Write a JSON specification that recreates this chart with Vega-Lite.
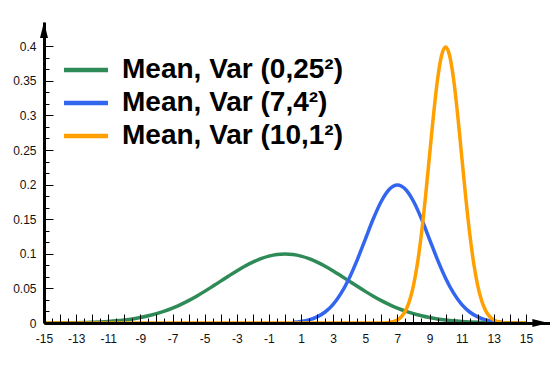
{
  "$schema": "https://vega.github.io/schema/vega-lite/v6.json",
  "width": 506,
  "height": 301,
  "autosize": {"type": "none"},
  "padding": {"left": 44, "top": 22, "right": 0, "bottom": 52},
  "background": "white",
  "config": {"view": {"stroke": null}, "font": "Liberation Sans"},
  "datasets": {
    "curves": [
      {"series": "Mean, Var (0,25²)", "x": -15, "y": 0.0001},
      {"series": "Mean, Var (0,25²)", "x": -14.5, "y": 0.0001},
      {"series": "Mean, Var (0,25²)", "x": -14, "y": 0.0002},
      {"series": "Mean, Var (0,25²)", "x": -13.5, "y": 0.0003},
      {"series": "Mean, Var (0,25²)", "x": -13, "y": 0.0005},
      {"series": "Mean, Var (0,25²)", "x": -12.5, "y": 0.0008},
      {"series": "Mean, Var (0,25²)", "x": -12, "y": 0.0011},
      {"series": "Mean, Var (0,25²)", "x": -11.5, "y": 0.0016},
      {"series": "Mean, Var (0,25²)", "x": -11, "y": 0.0023},
      {"series": "Mean, Var (0,25²)", "x": -10.5, "y": 0.0032},
      {"series": "Mean, Var (0,25²)", "x": -10, "y": 0.0044},
      {"series": "Mean, Var (0,25²)", "x": -9.5, "y": 0.0059},
      {"series": "Mean, Var (0,25²)", "x": -9, "y": 0.0079},
      {"series": "Mean, Var (0,25²)", "x": -8.5, "y": 0.0104},
      {"series": "Mean, Var (0,25²)", "x": -8, "y": 0.0135},
      {"series": "Mean, Var (0,25²)", "x": -7.5, "y": 0.0172},
      {"series": "Mean, Var (0,25²)", "x": -7, "y": 0.0216},
      {"series": "Mean, Var (0,25²)", "x": -6.5, "y": 0.0266},
      {"series": "Mean, Var (0,25²)", "x": -6, "y": 0.0324},
      {"series": "Mean, Var (0,25²)", "x": -5.5, "y": 0.0388},
      {"series": "Mean, Var (0,25²)", "x": -5, "y": 0.0457},
      {"series": "Mean, Var (0,25²)", "x": -4.5, "y": 0.0530},
      {"series": "Mean, Var (0,25²)", "x": -4, "y": 0.0605},
      {"series": "Mean, Var (0,25²)", "x": -3.5, "y": 0.0680},
      {"series": "Mean, Var (0,25²)", "x": -3, "y": 0.0753},
      {"series": "Mean, Var (0,25²)", "x": -2.5, "y": 0.0820},
      {"series": "Mean, Var (0,25²)", "x": -2, "y": 0.0880},
      {"series": "Mean, Var (0,25²)", "x": -1.5, "y": 0.0930},
      {"series": "Mean, Var (0,25²)", "x": -1, "y": 0.0967},
      {"series": "Mean, Var (0,25²)", "x": -0.5, "y": 0.0990},
      {"series": "Mean, Var (0,25²)", "x": 0, "y": 0.0997},
      {"series": "Mean, Var (0,25²)", "x": 0.5, "y": 0.0990},
      {"series": "Mean, Var (0,25²)", "x": 1, "y": 0.0967},
      {"series": "Mean, Var (0,25²)", "x": 1.5, "y": 0.0930},
      {"series": "Mean, Var (0,25²)", "x": 2, "y": 0.0880},
      {"series": "Mean, Var (0,25²)", "x": 2.5, "y": 0.0820},
      {"series": "Mean, Var (0,25²)", "x": 3, "y": 0.0753},
      {"series": "Mean, Var (0,25²)", "x": 3.5, "y": 0.0680},
      {"series": "Mean, Var (0,25²)", "x": 4, "y": 0.0605},
      {"series": "Mean, Var (0,25²)", "x": 4.5, "y": 0.0530},
      {"series": "Mean, Var (0,25²)", "x": 5, "y": 0.0457},
      {"series": "Mean, Var (0,25²)", "x": 5.5, "y": 0.0388},
      {"series": "Mean, Var (0,25²)", "x": 6, "y": 0.0324},
      {"series": "Mean, Var (0,25²)", "x": 6.5, "y": 0.0266},
      {"series": "Mean, Var (0,25²)", "x": 7, "y": 0.0216},
      {"series": "Mean, Var (0,25²)", "x": 7.5, "y": 0.0172},
      {"series": "Mean, Var (0,25²)", "x": 8, "y": 0.0135},
      {"series": "Mean, Var (0,25²)", "x": 8.5, "y": 0.0104},
      {"series": "Mean, Var (0,25²)", "x": 9, "y": 0.0079},
      {"series": "Mean, Var (0,25²)", "x": 9.5, "y": 0.0059},
      {"series": "Mean, Var (0,25²)", "x": 10, "y": 0.0044},
      {"series": "Mean, Var (0,25²)", "x": 10.5, "y": 0.0032},
      {"series": "Mean, Var (0,25²)", "x": 11, "y": 0.0023},
      {"series": "Mean, Var (0,25²)", "x": 11.5, "y": 0.0016},
      {"series": "Mean, Var (0,25²)", "x": 12, "y": 0.0011},
      {"series": "Mean, Var (0,25²)", "x": 12.5, "y": 0.0008},
      {"series": "Mean, Var (0,25²)", "x": 13, "y": 0.0005},
      {"series": "Mean, Var (0,25²)", "x": 13.5, "y": 0.0003},
      {"series": "Mean, Var (0,25²)", "x": 14, "y": 0.0002},
      {"series": "Mean, Var (0,25²)", "x": 14.5, "y": 0.0001},
      {"series": "Mean, Var (0,25²)", "x": 15, "y": 0.0001},
      {"series": "Mean, Var (7,4²)", "x": 0.5, "y": 0.0010},
      {"series": "Mean, Var (7,4²)", "x": 1, "y": 0.0022},
      {"series": "Mean, Var (7,4²)", "x": 1.5, "y": 0.0045},
      {"series": "Mean, Var (7,4²)", "x": 2, "y": 0.0088},
      {"series": "Mean, Var (7,4²)", "x": 2.5, "y": 0.0159},
      {"series": "Mean, Var (7,4²)", "x": 3, "y": 0.0270},
      {"series": "Mean, Var (7,4²)", "x": 3.5, "y": 0.0432},
      {"series": "Mean, Var (7,4²)", "x": 4, "y": 0.0648},
      {"series": "Mean, Var (7,4²)", "x": 4.5, "y": 0.0913},
      {"series": "Mean, Var (7,4²)", "x": 5, "y": 0.1210},
      {"series": "Mean, Var (7,4²)", "x": 5.5, "y": 0.1506},
      {"series": "Mean, Var (7,4²)", "x": 6, "y": 0.1760},
      {"series": "Mean, Var (7,4²)", "x": 6.5, "y": 0.1934},
      {"series": "Mean, Var (7,4²)", "x": 7, "y": 0.1995},
      {"series": "Mean, Var (7,4²)", "x": 7.5, "y": 0.1934},
      {"series": "Mean, Var (7,4²)", "x": 8, "y": 0.1760},
      {"series": "Mean, Var (7,4²)", "x": 8.5, "y": 0.1506},
      {"series": "Mean, Var (7,4²)", "x": 9, "y": 0.1210},
      {"series": "Mean, Var (7,4²)", "x": 9.5, "y": 0.0913},
      {"series": "Mean, Var (7,4²)", "x": 10, "y": 0.0648},
      {"series": "Mean, Var (7,4²)", "x": 10.5, "y": 0.0432},
      {"series": "Mean, Var (7,4²)", "x": 11, "y": 0.0270},
      {"series": "Mean, Var (7,4²)", "x": 11.5, "y": 0.0159},
      {"series": "Mean, Var (7,4²)", "x": 12, "y": 0.0088},
      {"series": "Mean, Var (7,4²)", "x": 12.5, "y": 0.0045},
      {"series": "Mean, Var (7,4²)", "x": 13, "y": 0.0022},
      {"series": "Mean, Var (7,4²)", "x": 13.5, "y": 0.0010},
      {"series": "Mean, Var (10,1²)", "x": -15, "y": 0},
      {"series": "Mean, Var (10,1²)", "x": -10, "y": 0},
      {"series": "Mean, Var (10,1²)", "x": -5, "y": 0},
      {"series": "Mean, Var (10,1²)", "x": 0, "y": 0},
      {"series": "Mean, Var (10,1²)", "x": 5, "y": 0},
      {"series": "Mean, Var (10,1²)", "x": 6, "y": 0.0001},
      {"series": "Mean, Var (10,1²)", "x": 6.5, "y": 0.0009},
      {"series": "Mean, Var (10,1²)", "x": 7, "y": 0.0044},
      {"series": "Mean, Var (10,1²)", "x": 7.25, "y": 0.0091},
      {"series": "Mean, Var (10,1²)", "x": 7.5, "y": 0.0175},
      {"series": "Mean, Var (10,1²)", "x": 7.75, "y": 0.0317},
      {"series": "Mean, Var (10,1²)", "x": 8, "y": 0.0540},
      {"series": "Mean, Var (10,1²)", "x": 8.25, "y": 0.0863},
      {"series": "Mean, Var (10,1²)", "x": 8.5, "y": 0.1295},
      {"series": "Mean, Var (10,1²)", "x": 8.75, "y": 0.1826},
      {"series": "Mean, Var (10,1²)", "x": 9, "y": 0.2420},
      {"series": "Mean, Var (10,1²)", "x": 9.25, "y": 0.3011},
      {"series": "Mean, Var (10,1²)", "x": 9.5, "y": 0.3521},
      {"series": "Mean, Var (10,1²)", "x": 9.75, "y": 0.3866},
      {"series": "Mean, Var (10,1²)", "x": 10, "y": 0.3989},
      {"series": "Mean, Var (10,1²)", "x": 10.25, "y": 0.3866},
      {"series": "Mean, Var (10,1²)", "x": 10.5, "y": 0.3521},
      {"series": "Mean, Var (10,1²)", "x": 10.75, "y": 0.3011},
      {"series": "Mean, Var (10,1²)", "x": 11, "y": 0.2420},
      {"series": "Mean, Var (10,1²)", "x": 11.25, "y": 0.1826},
      {"series": "Mean, Var (10,1²)", "x": 11.5, "y": 0.1295},
      {"series": "Mean, Var (10,1²)", "x": 11.75, "y": 0.0863},
      {"series": "Mean, Var (10,1²)", "x": 12, "y": 0.0540},
      {"series": "Mean, Var (10,1²)", "x": 12.25, "y": 0.0317},
      {"series": "Mean, Var (10,1²)", "x": 12.5, "y": 0.0175},
      {"series": "Mean, Var (10,1²)", "x": 12.75, "y": 0.0091},
      {"series": "Mean, Var (10,1²)", "x": 13, "y": 0.0044},
      {"series": "Mean, Var (10,1²)", "x": 13.5, "y": 0.0009},
      {"series": "Mean, Var (10,1²)", "x": 14, "y": 0.0001},
      {"series": "Mean, Var (10,1²)", "x": 15, "y": 0}
    ],
    "arrows": [
      {"x": 15.9, "y": 0, "dir": "right"},
      {"x": -15, "y": 0.4234, "dir": "up"}
    ]
  },
  "layer": [
    {
      "data": {"name": "curves"},
      "mark": {"type": "line", "strokeWidth": 3.5, "interpolate": "monotone"},
      "encoding": {
        "x": {
          "field": "x", "type": "quantitative",
          "scale": {"domain": [-15, 16.5], "nice": false, "zero": false},
          "axis": {
            "title": null, "grid": false, "zindex": 1, "tickCount": 500,
            "values": [-15,-14.5,-14,-13.5,-13,-12.5,-12,-11.5,-11,-10.5,-10,-9.5,-9,-8.5,-8,-7.5,-7,-6.5,-6,-5.5,-5,-4.5,-4,-3.5,-3,-2.5,-2,-1.5,-1,-0.5,0,0.5,1,1.5,2,2.5,3,3.5,4,4.5,5,5.5,6,6.5,7,7.5,8,8.5,9,9.5,10,10.5,11,11.5,12,12.5,13,13.5,14,14.5,15],
            "domainColor": "black", "domainWidth": 3,
            "tickColor": "black", "tickWidth": 1,
            "tickSize": {"condition": {"test": "datum.value % 1 == 0", "value": -9}, "value": -5},
            "labelExpr": "(datum.value % 2 != 0 && datum.value % 1 == 0) ? ('' + datum.value) : ''",
            "labelFontSize": 12, "labelColor": "#111", "labelPadding": 19,
            "labelOverlap": false, "labelFlush": false
          }
        },
        "y": {
          "field": "y", "type": "quantitative",
          "scale": {"domain": [0, 0.435], "nice": false},
          "axis": {
            "title": null, "grid": false, "zindex": 1, "tickCount": 500,
            "values": [0,0.01667,0.03333,0.05,0.06667,0.08333,0.1,0.11667,0.13333,0.15,0.16667,0.18333,0.2,0.21667,0.23333,0.25,0.26667,0.28333,0.3,0.31667,0.33333,0.35,0.36667,0.38333,0.4],
            "domainColor": "black", "domainWidth": 3,
            "tickColor": "black", "tickWidth": 1,
            "tickSize": {"condition": {"test": "abs(datum.value*20 - round(datum.value*20)) < 0.01", "value": -9}, "value": -5},
            "labelExpr": "abs(datum.value*20 - round(datum.value*20)) < 0.01 ? ('' + datum.value) : ''",
            "labelFontSize": 12, "labelColor": "#111", "labelPadding": 17,
            "labelOverlap": false, "labelFlush": false
          }
        },
        "color": {
          "field": "series", "type": "nominal",
          "scale": {
            "domain": ["Mean, Var (0,25²)", "Mean, Var (7,4²)", "Mean, Var (10,1²)"],
            "range": ["#2e8b57", "#3366ee", "#ffa000"]
          },
          "legend": {
            "orient": "none", "legendX": 28, "legendY": 34, "title": null,
            "symbolType": "M-2,0H2", "symbolSize": 484, "symbolStrokeWidth": 4.5,
            "labelFontSize": 28, "labelFontWeight": "bold", "labelColor": "black",
            "labelOffset": 22, "rowPadding": 5, "padding": 0, "labelLimit": 400
          }
        }
      }
    },
    {
      "data": {"name": "arrows"},
      "transform": [{"filter": "datum.dir == 'right'"}],
      "mark": {"type": "point", "filled": true, "color": "black", "opacity": 1, "size": 256, "shape": "M-1,-0.5L1,0L-1,0.5Z"},
      "encoding": {
        "x": {"field": "x", "type": "quantitative"},
        "y": {"field": "y", "type": "quantitative"}
      }
    },
    {
      "data": {"name": "arrows"},
      "transform": [{"filter": "datum.dir == 'up'"}],
      "mark": {"type": "point", "filled": true, "color": "black", "opacity": 1, "size": 256, "shape": "M-0.5,1L0,-1L0.5,1Z"},
      "encoding": {
        "x": {"field": "x", "type": "quantitative"},
        "y": {"field": "y", "type": "quantitative"}
      }
    }
  ]
}
